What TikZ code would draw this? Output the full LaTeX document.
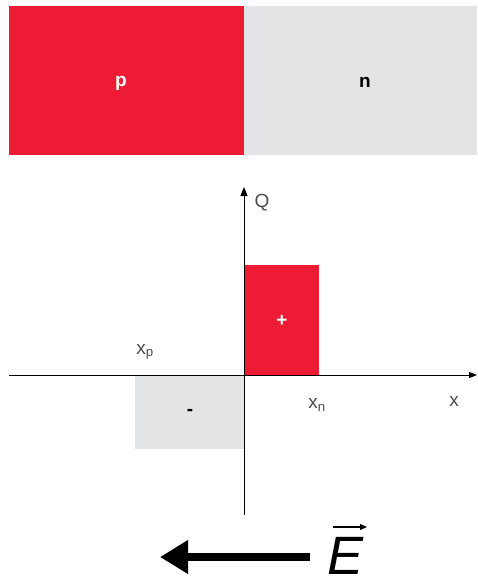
\documentclass[tikz,border=0pt]{standalone}
\usepackage{fontspec}
\setmainfont{Liberation Sans}
\usetikzlibrary{arrows.meta}
\definecolor{pred}{HTML}{ED1B34}
\definecolor{ngray}{HTML}{E3E4E6}
\tikzset{
  lbl/.style={font=\fontsize{19}{22}\selectfont, text=black!70},
  charge/.style={font=\bfseries\fontsize{19}{22}\selectfont}
}

\begin{document}
\begin{tikzpicture}[x=1pt, y=-1pt]
  \useasboundingbox (0,0) rectangle (477,586);

  % giunzione p-n
  \fill[pred] (9,6) rectangle (244,155);
  \fill[ngray] (244,6) rectangle (477,155);
  \node[charge, text=white] (p) at (121,83) {p};
  \node[charge] (n) at (365,82) {n};

  % densita di carica
  \fill[pred] (244,265) rectangle (319,375);
  \fill[ngray] (135,375) rectangle (244,449);
  \node[charge, text=white] (plus) at (282,321) {+};
  \node[charge] (minus) at (190,412) {-};

  % assi
  \coordinate (xl) at (9,375);
  \coordinate (xr) at (477,375);
  \coordinate (yb) at (244,515);
  \coordinate (yt) at (244,187);
  \draw[line width=1pt, -{Triangle[length=8pt, width=6pt]}] (xl) -- (xr);
  \draw[line width=1pt, -{Triangle[length=9pt, width=7pt]}] (yb) -- (yt);
  \node[lbl] (Q) at (262,203) {Q};
  \node[lbl] (x) at (454,401) {x};
  \node[lbl] (xp) at (145,352) {x\textsubscript{p}};
  \node[lbl] (xn) at (317,405) {x\textsubscript{n}};

  % campo elettrico
  \node[font=\itshape\fontsize{54}{58}\selectfont, inner sep=0pt, anchor=base] (E) at (346,574) {E};
  \coordinate (Es) at (310,557);
  \coordinate (Ee) at (160,557);
  \draw[line width=8pt, -{Triangle[length=28pt, width=32pt]}] (Es) -- (Ee);
  \coordinate (va) at (333,527);
  \coordinate (vb) at (367,527);
  \draw[line width=1.2pt, -{Triangle[length=7pt, width=6pt]}] (va) -- (vb);
\end{tikzpicture}
\end{document}
